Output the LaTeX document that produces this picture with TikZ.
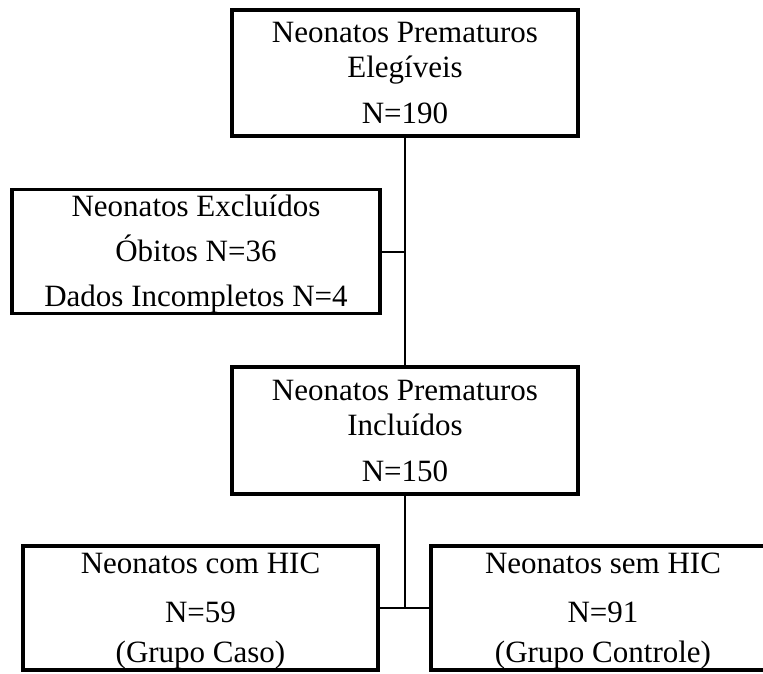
\documentclass[tikz,border=0pt]{standalone}
\usepackage{fontspec}
\setmainfont{Liberation Serif}
\tikzset{
  box/.style  = {draw=black, line width=3.3pt, fill=white, align=center,
                 inner sep=0pt, minimum height=124pt,
                 font=\fontsize{31}{35}\selectfont},
  link/.style = {draw=black, line width=2pt},
}

\begin{document}
\begin{tikzpicture}[x=1pt, y=-1pt]
  \useasboundingbox (0,0) rectangle (763,673);
  % flow boxes
  \node[box, minimum width=346pt, minimum height=126pt] (elig) at (405,73)
    {Neonatos Prematuros\\Elegíveis\\[11pt]N=190};
  \node[box, minimum width=368pt, minimum height=123pt] (excl) at (196,251.5)
    {\rule{0pt}{27.5pt}Neonatos Excluídos\\[10pt]Óbitos N=36\\[10pt]Dados Incompletos N=4};
  \node[box, minimum width=346pt, minimum height=127pt] (incl) at (405,430.5)
    {Neonatos Prematuros\\Incluídos\\[11pt]N=150};
  \node[box, minimum width=355pt] (caso) at (200.5,608)
    {\rule{0pt}{26pt}Neonatos com HIC\\[14pt]N=59\\[5pt](Grupo Caso)};
  \node[box, minimum width=344pt] (ctrl) at (603,608)
    {\rule{0pt}{26pt}Neonatos sem HIC\\[14pt]N=91\\[5pt](Grupo Controle)};
  % connectors
  \draw[link] (elig.south) -- (incl.north);
  \draw[link] (excl.east) -- (excl.east -| elig.south);
  \draw[link] (incl.south) -- (incl.south |- caso.east);
  \draw[link] (caso.east) -- (ctrl.west);
\end{tikzpicture}
\end{document}
